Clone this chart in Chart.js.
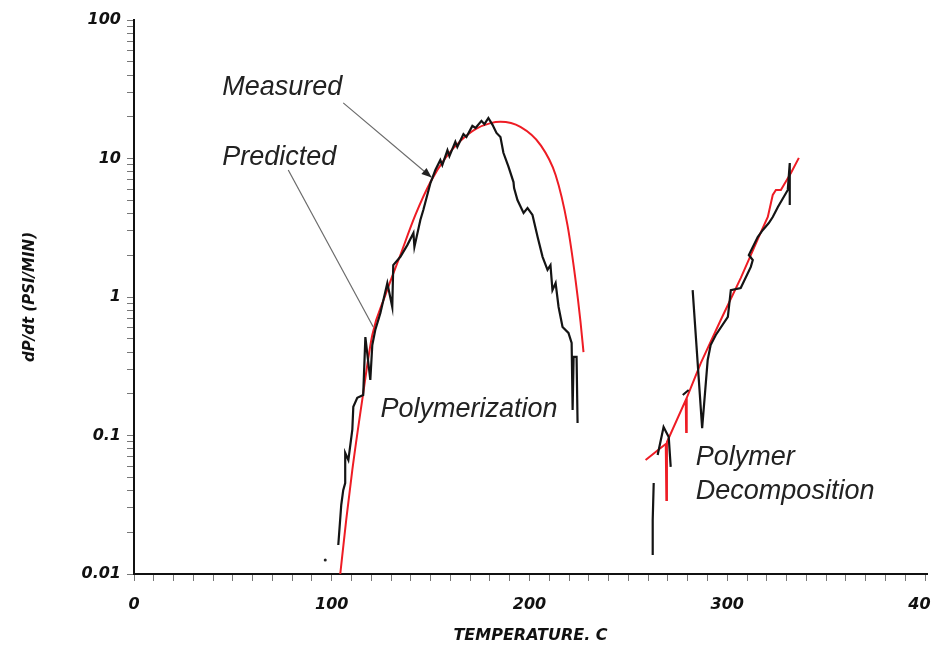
<!DOCTYPE html>
<html>
<head>
<meta charset="utf-8">
<script src="https://cdn.jsdelivr.net/npm/chart.js@4.4.1/dist/chart.umd.min.js"></script>
<style>
  html, body { margin: 0; padding: 0; background: #fff; }
  #wrap { width: 931px; height: 645px; position: relative; }
</style>
</head>
<body>
<div id="wrap"><canvas id="c"></canvas></div>
<script>
// Axis tick labels
const xTickLabels = [0, 100, 200, 300, 400];
const yTickLabels = [0.01, 0.1, 1, 10, 100];

// Polymerization: measured pressure rate
const polyTemp = [103.3, 104.8, 105.8, 106.8, 106.8, 108.4, 110.4, 110.9, 112.9, 115.9,
  117.0, 119.5, 120.5, 122.0, 124.6, 128.1, 130.6, 131.1, 134.7, 138.2,
  141.3, 141.8, 144.8, 146.3, 149.9, 152.4, 154.9, 155.9, 158.5, 159.5,
  162.5, 163.5, 166.6, 168.1, 171.1, 172.7, 175.7, 177.2, 179.2, 181.3,
  183.3, 185.3, 186.8, 189.4, 191.9, 192.2, 193.9, 197.0, 199.0, 201.5,
  204.1, 206.6, 209.1, 210.6, 211.6, 213.2, 214.7, 216.7, 219.7, 221.3,
  221.8, 222.3, 223.8, 224.3];
const polyMeasured = [0.0162, 0.0315, 0.0403, 0.0454, 0.0748, 0.0665, 0.110, 0.161, 0.187, 0.196,
  0.514, 0.252, 0.450, 0.578, 0.766, 1.26, 0.847, 1.70, 1.95, 2.37,
  2.90, 2.30, 3.60, 4.25, 6.65, 8.26, 9.75, 8.97, 11.5, 10.4,
  13.2, 12.1, 15.0, 14.3, 17.2, 16.6, 18.7, 17.7, 19.6, 17.5,
  15.3, 14.3, 11.0, 8.69, 6.76, 6.12, 5.01, 4.04, 4.39, 3.91,
  2.71, 1.95, 1.57, 1.70, 1.12, 1.26, 0.847, 0.607, 0.550, 0.466,
  0.153, 0.369, 0.369, 0.123];

// Polymerization: predicted pressure rate
const polyPredTemp = [104.3, 107.3, 110.4, 115.4, 120.5, 127.1, 134.7, 142.3, 149.9, 157.5,
  165.1, 172.7, 180.3, 185.3, 195.4, 205.6, 213.2, 219.2, 223.3, 225.8, 227.3];
const polyPredicted = [0.0100, 0.0245, 0.0564, 0.180, 0.532, 1.03, 2.01, 3.91, 6.76, 10.1,
  13.4, 16.3, 18.0, 18.4, 16.9, 12.5, 7.6, 3.3, 1.32, 0.66, 0.40];

// Polymer decomposition: measured (null = break in the record)
const decompTemp = [262.8, 262.3, 262.3, 263.5,
  264.8, 267.8, 270.4, 271.4, 274.0,
  277.5, 280.5, 281.5,
  282.5, 287.3, 290.1, 291.6, 294.2, 300.3, 301.8, 306.8, 311.9, 312.9,
  310.9, 315.4, 318.0, 321.0, 323.0, 325.6, 330.6, 331.6, 331.6];
const decompMeasured = [0.0454, 0.0245, 0.0137, null,
  0.0722, 0.115, 0.0975, 0.0593, null,
  0.196, 0.213, null,
  1.12, 0.113, 0.351, 0.450, 0.532, 0.718, 1.12, 1.16, 1.65, 1.85,
  2.01, 2.71, 3.05, 3.42, 3.78, 4.47, 5.93, 9.28, 4.61];

// Polymer decomposition: predicted
const decompPredTemp = [258.7, 266.3, 268.9, 269.2, 269.5, 279.0, 279.2, 279.5, 286.6, 296.7,
  306.8, 317.0, 320.5, 323.0, 324.6, 327.1, 332.2, 336.2];
const decompPredicted = [0.0665, 0.0813, 0.0869, 0.0342, 0.0897, 0.180, 0.106, 0.187, 0.333, 0.682,
  1.37, 2.94, 3.78, 5.45, 5.93, 5.93, 7.85, 10.1];

// Stray reading before onset
const strayTemp = [96.7];
const strayValue = [0.0126];

// Text labels and leader lines, in data units
const notes = [
  { text: 'Measured', t: 44.6, v: 32.3 },
  { text: 'Predicted', t: 44.6, v: 10.1 },
  { text: 'Polymerization', t: 124.6, v: 0.153 },
  { text: 'Polymer', t: 284.1, v: 0.0689 },
  { text: 'Decomposition', t: 284.1, v: 0.0391 }
];
const leaders = [
  { from: [105.8, 25.2], to: [150.5, 7.3], head: true },
  { from: [78.0, 8.26], to: [121.0, 0.607], head: false }
];

const zip = (xs, ys) => xs.map((x, i) => ({ x: x, y: ys[i] }));

const BLACK = '#141414';
const RED = '#ee1c24';
const FAMILY = '"DejaVu Sans", "Liberation Sans", Arial, sans-serif';

const annotate = {
  id: 'annotate',
  afterDatasetsDraw(chart) {
    const { ctx, scales: { x, y } } = chart;
    ctx.save();
    ctx.strokeStyle = '#6a6a6a';
    ctx.lineWidth = 1.2;
    leaders.forEach(l => {
      const x0 = x.getPixelForValue(l.from[0]), y0 = y.getPixelForValue(l.from[1]);
      const x1 = x.getPixelForValue(l.to[0]), y1 = y.getPixelForValue(l.to[1]);
      ctx.beginPath();
      ctx.moveTo(x0, y0);
      ctx.lineTo(x1, y1);
      ctx.stroke();
      if (l.head) {
        const a = Math.atan2(y1 - y0, x1 - x0), len = 10, w = 4;
        ctx.beginPath();
        ctx.moveTo(x1, y1);
        ctx.lineTo(x1 - len * Math.cos(a) + w * Math.sin(a), y1 - len * Math.sin(a) - w * Math.cos(a));
        ctx.lineTo(x1 - len * Math.cos(a) - w * Math.sin(a), y1 - len * Math.sin(a) + w * Math.cos(a));
        ctx.closePath();
        ctx.fillStyle = '#222';
        ctx.fill();
      }
    });
    ctx.font = 'italic 27px "Liberation Sans", Arial, sans-serif';
    ctx.fillStyle = '#222';
    ctx.textAlign = 'left';
    ctx.textBaseline = 'middle';
    notes.forEach(n => {
      ctx.fillText(n.text, x.getPixelForValue(n.t), y.getPixelForValue(n.v));
    });
    ctx.restore();
  }
};

const tickFont = { family: FAMILY, size: 16, style: 'italic', weight: 'bold' };

new Chart(document.getElementById('c'), {
  type: 'scatter',
  data: {
    datasets: [
      { data: zip(polyTemp, polyMeasured), showLine: true, borderColor: BLACK, borderWidth: 2.2, pointRadius: 0, tension: 0 },
      { data: zip(decompTemp, decompMeasured), showLine: true, spanGaps: false, borderColor: BLACK, borderWidth: 2.2, pointRadius: 0, tension: 0 },
      { data: zip(polyPredTemp, polyPredicted), showLine: true, borderColor: RED, borderWidth: 2, pointRadius: 0, cubicInterpolationMode: 'monotone' },
      { data: zip(decompPredTemp, decompPredicted), showLine: true, borderColor: RED, borderWidth: 2, pointRadius: 0, tension: 0 },
      { data: zip(strayTemp, strayValue), showLine: false, pointRadius: 1.5, pointBackgroundColor: '#222', pointBorderWidth: 0 }
    ]
  },
  options: {
    responsive: true,
    maintainAspectRatio: false,
    animation: false,
    layout: { padding: { top: 20, left: 0, right: 0, bottom: 0 } },
    plugins: { legend: { display: false }, tooltip: { enabled: false } },
    scales: {
      x: {
        type: 'linear',
        min: 0,
        max: 401,
        afterBuildTicks: s => {
          const t = [];
          for (let v = 0; v <= 400; v += 10) t.push({ value: v });
          s.ticks = t;
        },
        afterFit: s => { s.height = 71; s.paddingLeft = 0; s.paddingRight = 0; },
        ticks: {
          autoSkip: false, maxRotation: 0, padding: 14, color: '#111', font: tickFont,
          callback: v => (xTickLabels.includes(v) ? String(v) : '')
        },
        grid: { drawOnChartArea: false, drawTicks: true, tickLength: 7, tickColor: '#777', tickWidth: 1 },
        border: { display: true, color: '#111', width: 2 },
        title: {
          display: true, text: 'TEMPERATURE. C', color: '#111',
          font: { family: FAMILY, size: 16, style: 'italic', weight: 'bold' },
          padding: { top: 4, bottom: 0 }
        }
      },
      y: {
        type: 'logarithmic',
        min: 0.01,
        max: 100,
        afterBuildTicks: s => {
          const t = [];
          for (let e = -2; e <= 2; e++) {
            for (let m = 1; m <= 9; m++) {
              const v = parseFloat((m * Math.pow(10, e)).toPrecision(3));
              if (v > 100.0001) break;
              t.push({ value: v });
            }
          }
          s.ticks = t;
        },
        afterFit: s => { s.width = 134; s.paddingTop = 0; s.paddingBottom = 0; },
        ticks: {
          autoSkip: false, padding: 6, color: '#111', font: tickFont,
          callback: v => {
            const hit = yTickLabels.find(l => Math.abs(l - v) < l * 1e-6);
            return hit !== undefined ? String(hit) : '';
          }
        },
        grid: { drawOnChartArea: false, drawTicks: true, tickLength: 7, tickColor: '#777', tickWidth: 1 },
        border: { display: true, color: '#111', width: 2 },
        title: {
          display: true, text: 'dP/dt (PSI/MIN)', color: '#111',
          font: { family: FAMILY, size: 15, style: 'italic', weight: 'bold' },
          padding: { top: 21, bottom: 0 }
        }
      }
    }
  },
  plugins: [annotate]
});
</script>
</body>
</html>
